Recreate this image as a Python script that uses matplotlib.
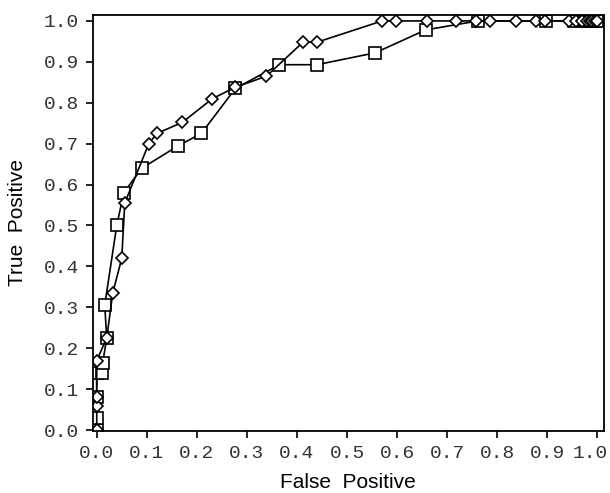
import matplotlib.pyplot as plt
import matplotlib.transforms as mtransforms
import numpy as np

# diamond curve
fp_d = [0.0, 0.0, 0.0, 0.0, 0.02, 0.032, 0.05, 0.056, 0.104, 0.12, 0.171, 0.231,
        0.277, 0.339, 0.412, 0.44, 0.57, 0.597, 0.66, 0.717, 0.757, 0.785, 0.837,
        0.877, 0.896, 0.944, 0.958, 0.97, 0.98, 0.985, 0.99, 0.995, 1.0]
tp_d = [0.0, 0.06, 0.08, 0.17, 0.225, 0.335, 0.42, 0.555, 0.70, 0.725, 0.752, 0.81,
        0.838, 0.865, 0.948, 0.948, 1.0, 1.0, 1.0, 1.0, 1.0, 1.0, 1.0,
        1.0, 1.0, 1.0, 1.0, 1.0, 1.0, 1.0, 1.0, 1.0, 1.0]

# square curve
fp_s = [0.0, 0.0, 0.0, 0.0, 0.01, 0.012, 0.02, 0.016, 0.04, 0.054, 0.09, 0.163,
        0.209, 0.277, 0.365, 0.44, 0.556, 0.657, 0.761, 0.898, 0.954,
        0.975, 0.985, 0.99, 0.995, 1.0]
tp_s = [0.0, 0.03, 0.08, 0.14, 0.14, 0.165, 0.225, 0.305, 0.5, 0.58, 0.64, 0.695,
        0.725, 0.835, 0.893, 0.893, 0.922, 0.978, 1.0, 1.0, 1.0,
        1.0, 1.0, 1.0, 1.0, 1.0]

ticks = np.arange(0, 1.01, 0.1)
tick_labels = ["%.1f" % t for t in ticks]

fig = plt.figure(figsize=(6.1, 4.93), dpi=100)
ax = fig.add_axes([0.152, 0.126, 0.838, 0.844])

ax.plot(fp_s, tp_s, color="black", lw=1.2, marker="s", ms=8.5,
        mfc="white", mec="black", mew=1.2)
ax.plot(fp_d, tp_d, color="black", lw=1.2, marker="D", ms=6.5,
        mfc="white", mec="black", mew=1.2)

ax.set_xlim(-0.008, 1.013)
ax.set_ylim(-0.002, 1.015)
ax.set_xticks(ticks)
ax.set_yticks(ticks)
ax.set_xticklabels(tick_labels, family="Liberation Mono", fontsize=14, color="#333333")
ax.set_yticklabels(tick_labels, family="Liberation Mono", fontsize=14, color="#333333")
ax.tick_params(direction="out", length=5, width=1.2, pad=5)

# last x label is pushed left so it fits
lab = ax.get_xticklabels()[-1]
lab.set_transform(lab.get_transform() + mtransforms.ScaledTranslation(-0.07, 0, fig.dpi_scale_trans))

for s in ax.spines.values():
    s.set_linewidth(1.3)

ax.set_xlabel("False  Positive", family="Liberation Sans", fontsize=15, labelpad=8)
ax.set_ylabel("True  Positive", family="Liberation Sans", fontsize=15, labelpad=12)

fig.savefig("out.png", dpi=100)
